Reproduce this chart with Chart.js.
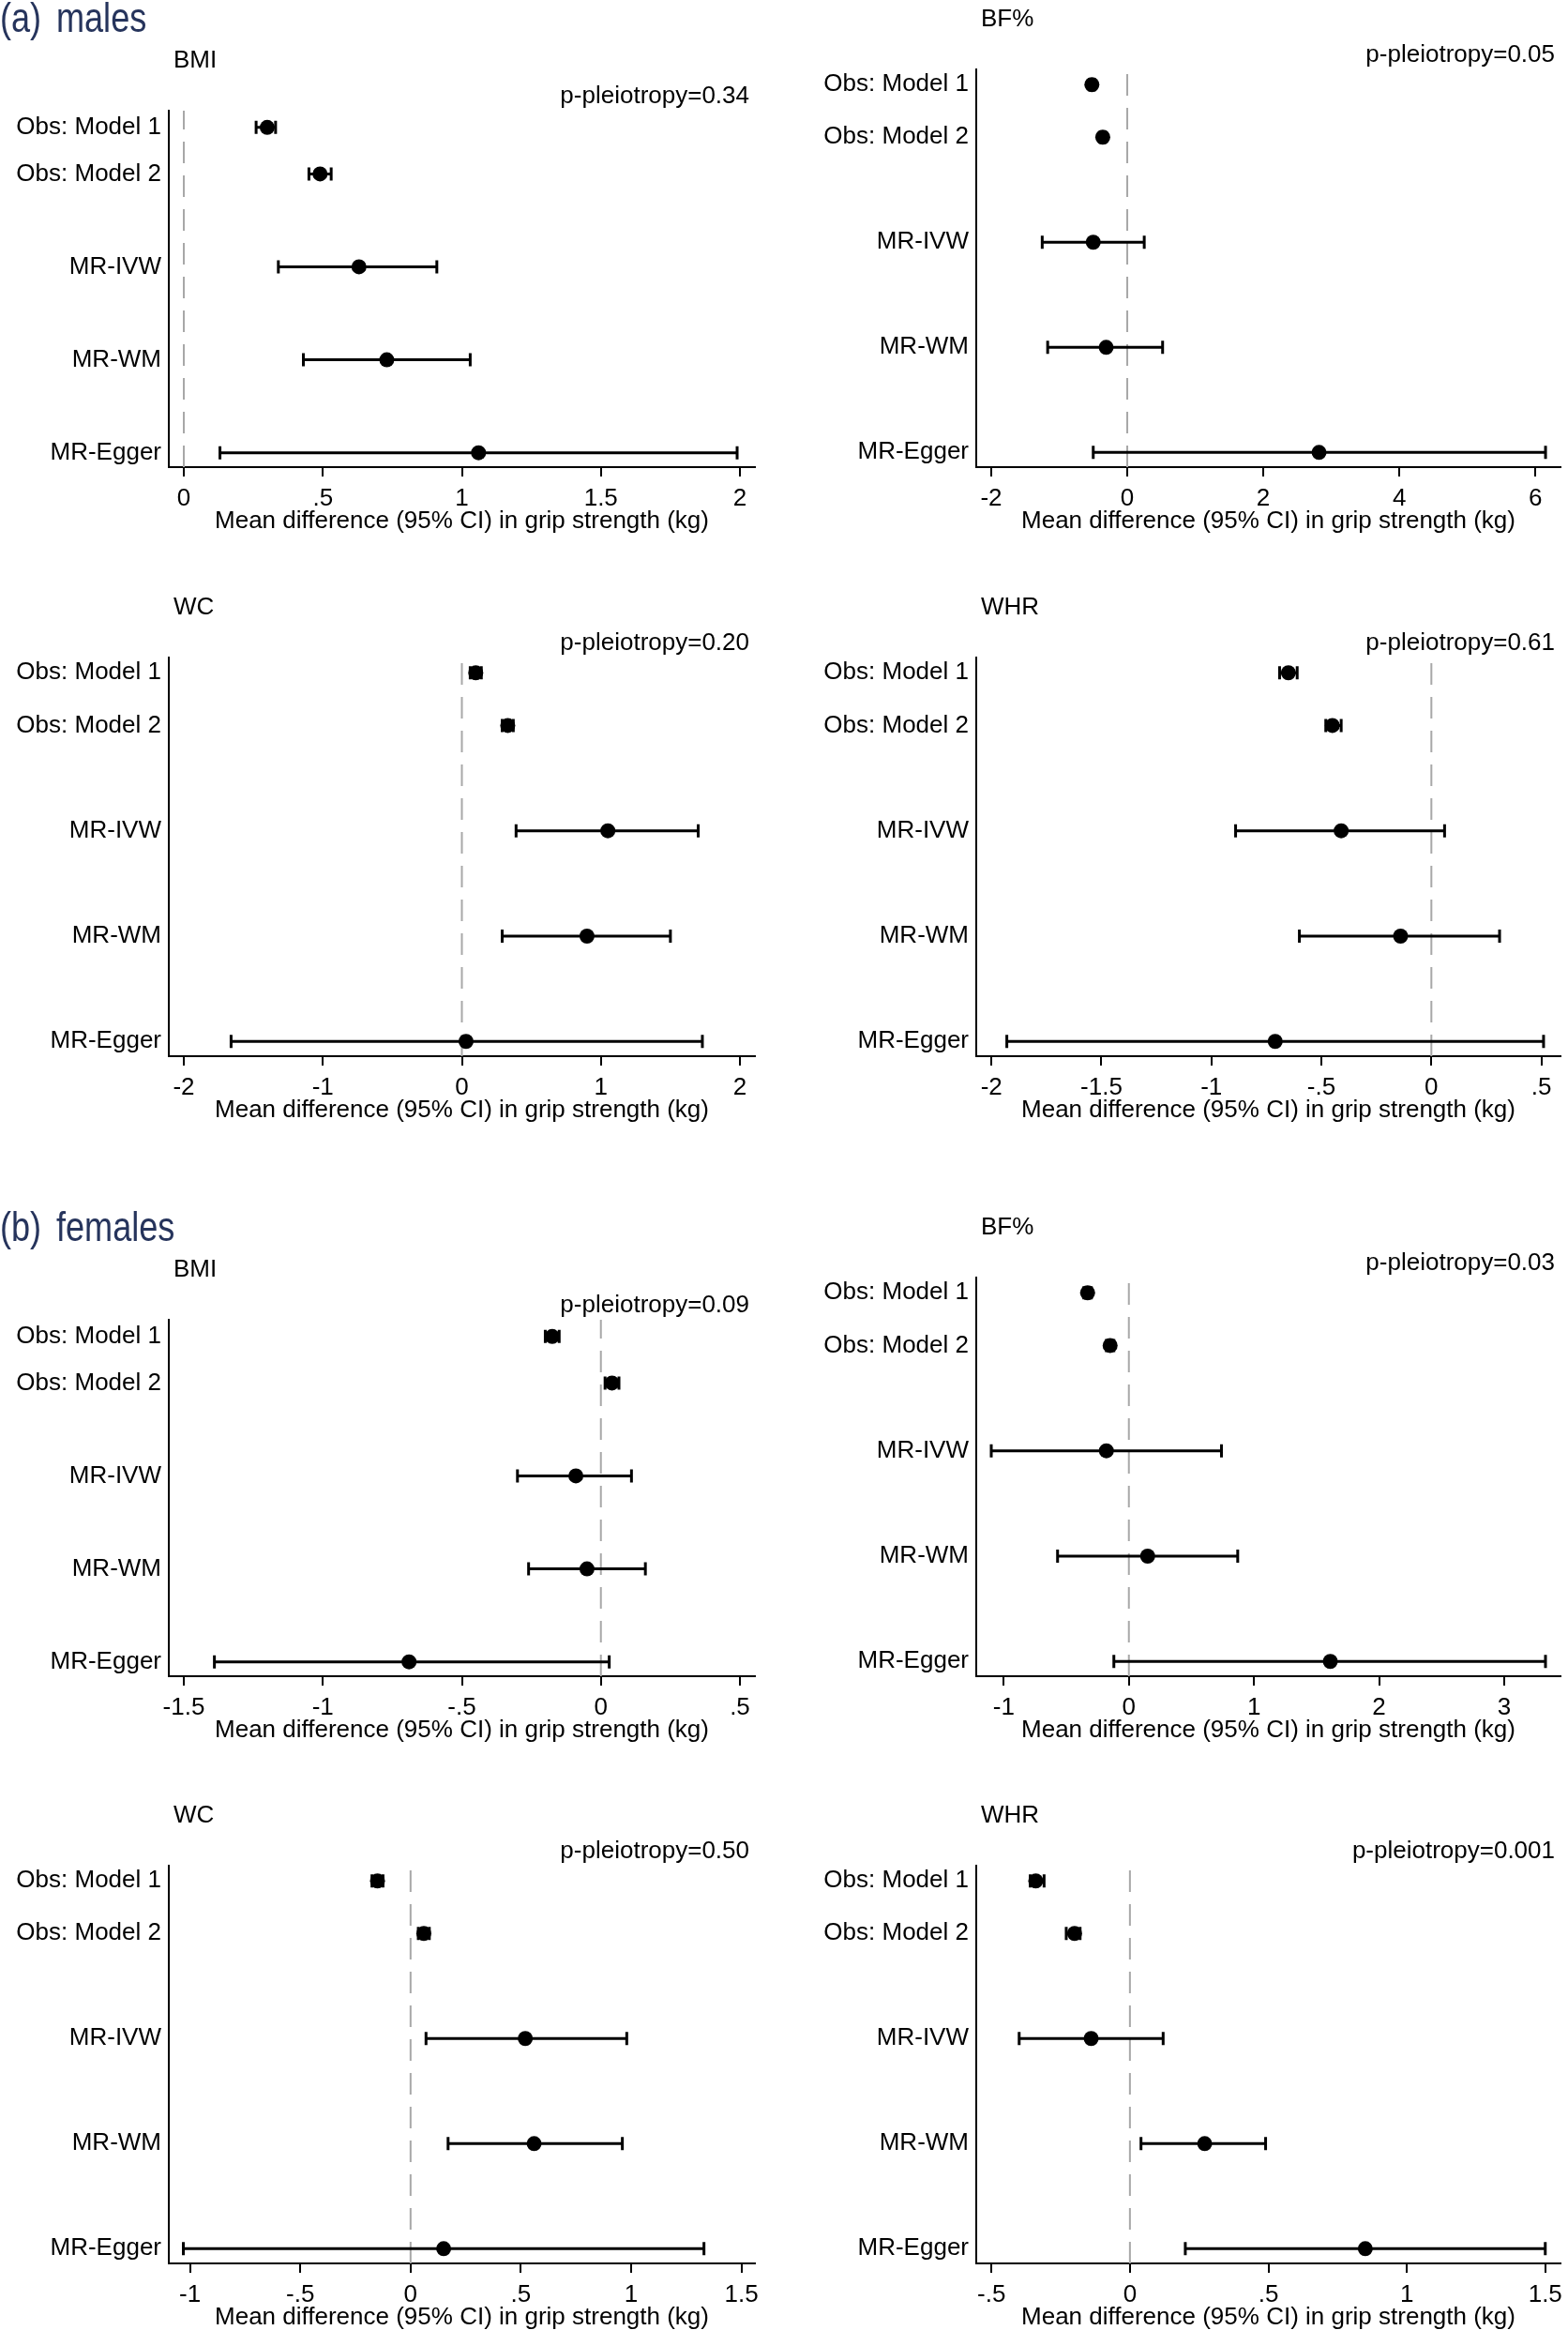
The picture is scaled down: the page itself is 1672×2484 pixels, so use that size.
<!DOCTYPE html>
<html>
<head>
<meta charset="utf-8">
<script src="https://cdn.jsdelivr.net/npm/chart.js@4.4.1/dist/chart.umd.min.js"></script>
<style>
  html, body { margin: 0; padding: 0; background: #fff; }
  body { width: 1672px; height: 2484px; position: relative; overflow: hidden; }
  canvas { position: absolute; }
</style>
</head>
<body>
<script>
// ---- DATA ----
const rowLabels = ['Obs: Model 1', 'Obs: Model 2', 'MR-IVW', 'MR-WM', 'MR-Egger'];
const rowPositions = [1, 2, 4, 6, 8];
const exposures = ['BMI', 'BF%', 'WC', 'WHR'];
const xTitle = 'Mean difference (95% CI) in grip strength (kg)';

const malesPleiotropy = ['0.34', '0.05', '0.20', '0.61'];
const femalesPleiotropy = ['0.09', '0.03', '0.50', '0.001'];

// males
const maleBmiEst = [0.30, 0.49, 0.63, 0.73, 1.06];
const maleBmiLo = [0.26, 0.45, 0.34, 0.43, 0.13];
const maleBmiHi = [0.33, 0.53, 0.91, 1.03, 1.99];
const maleBmiTicks = [0, 0.5, 1, 1.5, 2];

const maleBfEst = [-0.52, -0.36, -0.50, -0.31, 2.82];
const maleBfLo = [-0.56, -0.40, -1.25, -1.17, -0.50];
const maleBfHi = [-0.48, -0.32, 0.25, 0.52, 6.15];
const maleBfTicks = [-2, 0, 2, 4, 6];

const maleWcEst = [0.10, 0.33, 1.05, 0.90, 0.03];
const maleWcLo = [0.06, 0.29, 0.39, 0.29, -1.66];
const maleWcHi = [0.14, 0.37, 1.70, 1.50, 1.73];
const maleWcTicks = [-2, -1, 0, 1, 2];

const maleWhrEst = [-0.65, -0.45, -0.41, -0.14, -0.71];
const maleWhrLo = [-0.69, -0.48, -0.89, -0.60, -1.93];
const maleWhrHi = [-0.61, -0.41, 0.06, 0.31, 0.51];
const maleWhrTicks = [-2, -1.5, -1, -0.5, 0, 0.5];

// females
const femaleBmiEst = [-0.175, 0.04, -0.09, -0.05, -0.69];
const femaleBmiLo = [-0.20, 0.015, -0.30, -0.26, -1.39];
const femaleBmiHi = [-0.15, 0.065, 0.11, 0.16, 0.03];
const femaleBmiTicks = [-1.5, -1, -0.5, 0, 0.5];

const femaleBfEst = [-0.33, -0.15, -0.18, 0.15, 1.61];
const femaleBfLo = [-0.36, -0.18, -1.10, -0.57, -0.12];
const femaleBfHi = [-0.30, -0.12, 0.74, 0.87, 3.33];
const femaleBfTicks = [-1, 0, 1, 2, 3];

const femaleWcEst = [-0.15, 0.06, 0.52, 0.56, 0.15];
const femaleWcLo = [-0.175, 0.035, 0.07, 0.17, -1.03];
const femaleWcHi = [-0.125, 0.085, 0.98, 0.96, 1.33];
const femaleWcTicks = [-1, -0.5, 0, 0.5, 1, 1.5];

const femaleWhrEst = [-0.34, -0.20, -0.14, 0.27, 0.85];
const femaleWhrLo = [-0.36, -0.23, -0.40, 0.04, 0.20];
const femaleWhrHi = [-0.31, -0.18, 0.12, 0.49, 1.50];
const femaleWhrTicks = [-0.5, 0, 0.5, 1, 1.5];

// ---- LAYOUT / STYLE ----
const FONT = "'Liberation Sans', Arial, Helvetica, sans-serif";
const HEADER_COLOR = '#26345c';
const X_SCALE_HEIGHT = 73;

const COLUMNS = [
  {left: 0, yWidth: 170, padLeft: 10, padRight: 31},
  {left: 836, yWidth: 195, padLeft: 10, padRight: 4}
];

// one entry per panel
const PANELS = [
  {col: 0, top: 0, height: 571, padTop: 118, yRange: [0.64, 8.31], xRange: [-0.054, 2.054],
    title: exposures[0], p: malesPleiotropy[0], est: maleBmiEst, lo: maleBmiLo, hi: maleBmiHi, ticks: maleBmiTicks,
    header: {tag: '(a)', text: 'males', baseline: 34}},
  {col: 1, top: 0, height: 571, padTop: 74, yRange: [0.71, 8.28], xRange: [-2.22, 6.37],
    title: exposures[1], p: malesPleiotropy[1], est: maleBfEst, lo: maleBfLo, hi: maleBfHi, ticks: maleBfTicks},
  {col: 0, top: 600, height: 599, padTop: 101, yRange: [0.71, 8.28], xRange: [-2.108, 2.108],
    title: exposures[2], p: malesPleiotropy[2], est: maleWcEst, lo: maleWcLo, hi: maleWcHi, ticks: maleWcTicks},
  {col: 1, top: 600, height: 599, padTop: 101, yRange: [0.71, 8.28], xRange: [-2.069, 0.587],
    title: exposures[3], p: malesPleiotropy[3], est: maleWhrEst, lo: maleWhrLo, hi: maleWhrHi, ticks: maleWhrTicks},
  {col: 0, top: 1270, height: 590, padTop: 137, yRange: [0.64, 8.31], xRange: [-1.554, 0.554],
    title: exposures[0], p: femalesPleiotropy[0], est: femaleBmiEst, lo: femaleBmiLo, hi: femaleBmiHi, ticks: femaleBmiTicks,
    header: {tag: '(b)', text: 'females', baseline: 53}},
  {col: 1, top: 1270, height: 590, padTop: 92, yRange: [0.71, 8.28], xRange: [-1.22, 3.45],
    title: exposures[1], p: femalesPleiotropy[1], est: femaleBfEst, lo: femaleBfLo, hi: femaleBfHi, ticks: femaleBfTicks},
  {col: 0, top: 1880, height: 606, padTop: 109, yRange: [0.71, 8.28], xRange: [-1.096, 1.561],
    title: exposures[2], p: femalesPleiotropy[2], est: femaleWcEst, lo: femaleWcLo, hi: femaleWcHi, ticks: femaleWcTicks},
  {col: 1, top: 1880, height: 606, padTop: 109, yRange: [0.71, 8.28], xRange: [-0.555, 1.555],
    title: exposures[3], p: femalesPleiotropy[3], est: femaleWhrEst, lo: femaleWhrLo, hi: femaleWhrHi, ticks: femaleWhrTicks}
];

// Stata style: ".5" instead of "0.5"
const stataNumber = (v) => String(v).replace(/^(-?)0\./, '$1.');

// zero line, CI whiskers, panel texts
const forestPlugin = {
  id: 'forest',
  beforeDatasetsDraw(chart, args, opts) {
    const {ctx, chartArea: area, scales: {x, y}} = chart;

    // REFERENCE LINE AT 0 //
    const x0 = x.getPixelForValue(0);
    ctx.save();
    ctx.strokeStyle = '#a8a8a8';
    ctx.lineWidth = 2;
    ctx.setLineDash([23, 13]);
    ctx.beginPath();
    ctx.moveTo(x0, area.bottom);
    ctx.lineTo(x0, area.top);
    ctx.stroke();
    ctx.setLineDash([]);

    // 95% CI //
    ctx.strokeStyle = '#000';
    ctx.lineWidth = 3;
    opts.lo.forEach((lo, i) => {
      const py = y.getPixelForValue(rowPositions[i]);
      const left = x.getPixelForValue(lo);
      const right = x.getPixelForValue(opts.hi[i]);
      ctx.beginPath();
      ctx.moveTo(left, py);
      ctx.lineTo(right, py);
      ctx.moveTo(left, py - 7);
      ctx.lineTo(left, py + 7);
      ctx.moveTo(right, py - 7);
      ctx.lineTo(right, py + 7);
      ctx.stroke();
    });
    ctx.restore();
  },
  afterDraw(chart, args, opts) {
    const {ctx, chartArea: area} = chart;
    ctx.save();
    ctx.fillStyle = '#000';
    ctx.textBaseline = 'alphabetic';
    ctx.font = `26px ${FONT}`;

    // EXPOSURE TITLE //
    ctx.textAlign = 'left';
    ctx.fillText(opts.title, area.left + 5, area.top - 46);

    // PLEIOTROPY //
    ctx.textAlign = 'right';
    ctx.fillText(`p-pleiotropy=${opts.p}`, area.right - 6, area.top - 8);

    // SEX HEADER //
    if (opts.header) {
      ctx.fillStyle = HEADER_COLOR;
      ctx.textAlign = 'left';
      ctx.font = `44px ${FONT}`;
      [[opts.header.tag, 0], [opts.header.text, 60]].forEach(([str, hx]) => {
        ctx.save();
        ctx.translate(hx, opts.header.baseline);
        ctx.scale(0.82, 1);
        ctx.fillText(str, 0, 0);
        ctx.restore();
      });
    }
    ctx.restore();
  }
};

PANELS.forEach((panel) => {
  const column = COLUMNS[panel.col];
  const canvas = document.createElement('canvas');
  canvas.width = 836;
  canvas.height = panel.height;
  canvas.style.left = column.left + 'px';
  canvas.style.top = panel.top + 'px';
  canvas.style.width = '836px';
  canvas.style.height = panel.height + 'px';
  document.body.appendChild(canvas);

  const tickFont = {family: FONT, size: 26};

  new Chart(canvas, {
    type: 'scatter',
    data: {
      datasets: [{
        data: panel.est.map((v, i) => ({x: v, y: rowPositions[i]})),
        backgroundColor: '#000',
        borderWidth: 0,
        pointRadius: 8,
        pointHoverRadius: 8
      }]
    },
    plugins: [forestPlugin],
    options: {
      responsive: false,
      animation: false,
      devicePixelRatio: 1,
      events: [],
      layout: {padding: {left: column.padLeft, right: column.padRight, top: panel.padTop, bottom: 0}},
      plugins: {
        legend: {display: false},
        tooltip: {enabled: false},
        forest: {title: panel.title, p: panel.p, lo: panel.lo, hi: panel.hi, header: panel.header}
      },
      scales: {
        x: {
          type: 'linear',
          min: panel.xRange[0],
          max: panel.xRange[1],
          afterBuildTicks: (scale) => { scale.ticks = panel.ticks.map(v => ({value: v})); },
          afterFit: (scale) => {
            scale.height = X_SCALE_HEIGHT;
            scale.paddingLeft = 0;
            scale.paddingRight = 0;
          },
          grid: {display: true, drawOnChartArea: false, drawTicks: true, tickLength: 10, color: '#000', lineWidth: 2},
          border: {display: true, color: '#000', width: 2},
          ticks: {font: tickFont, color: '#000', padding: 8, maxRotation: 0, autoSkip: false,
            callback: (v) => stataNumber(v)},
          title: {display: true, text: xTitle, font: tickFont, color: '#000', padding: 0}
        },
        y: {
          type: 'linear',
          reverse: true,
          min: panel.yRange[0],
          max: panel.yRange[1],
          afterBuildTicks: (scale) => { scale.ticks = rowPositions.map(v => ({value: v})); },
          afterFit: (scale) => {
            scale.width = column.yWidth;
            scale.paddingTop = 0;
            scale.paddingBottom = 0;
          },
          grid: {display: false, drawTicks: false},
          border: {display: true, color: '#000', width: 2},
          ticks: {font: tickFont, color: '#000', padding: 8, autoSkip: false,
            callback: (v, i) => rowLabels[i]}
        }
      }
    }
  });
});
</script>
</body>
</html>
